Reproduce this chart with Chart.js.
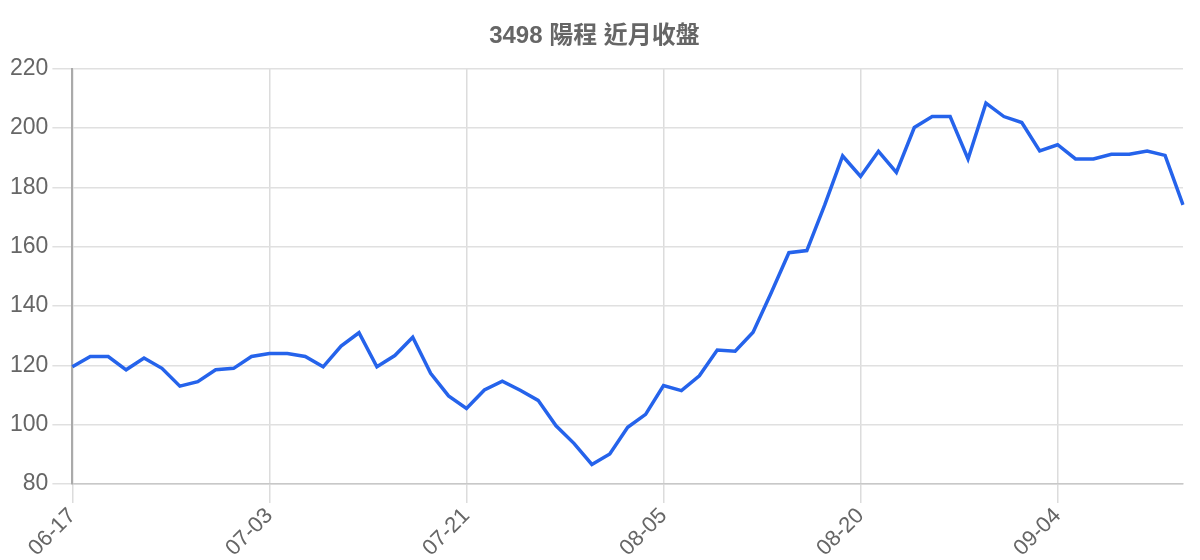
<!DOCTYPE html>
<html>
<head>
<meta charset="utf-8">
<script src="https://cdn.jsdelivr.net/npm/chart.js@4/dist/chart.umd.min.js"></script>
<style>
  html, body { margin: 0; padding: 0; background: #fff; }
  #wrap { width: 1200px; height: 560px; }
</style>
</head>
<body>
<div id="wrap"><canvas id="priceChart"></canvas></div>
<script>
const chartTitle = '3498 陽程 近月收盤';

const dates = [
  '06-17', '06-18', '06-19', '06-20', '06-21', '06-24', '06-25', '06-26', '06-27', '06-28',
  '07-01', '07-03', '07-04', '07-05', '07-08', '07-09', '07-10', '07-11', '07-12', '07-15',
  '07-16', '07-17', '07-21', '07-22', '07-23', '07-24', '07-25', '07-28', '07-29', '07-30',
  '07-31', '08-01', '08-04', '08-05', '08-06', '08-07', '08-08', '08-11', '08-12', '08-13',
  '08-14', '08-15', '08-18', '08-19', '08-20', '08-21', '08-22', '08-25', '08-26', '08-27',
  '08-28', '08-29', '09-01', '09-02', '09-03', '09-04', '09-05', '09-08', '09-09', '09-10',
  '09-11', '09-12', '09-15'
];

const closes = [
  119.5, 123, 123, 118.5, 122.5, 119, 113, 114.5, 118.5, 119,
  123, 124, 124, 123, 119.5, 126.5, 131, 119.5, 123.3, 129.5,
  117.3, 109.7, 105.5, 111.7, 114.7, 111.6, 108.2, 99.6, 93.7, 86.6,
  90.1, 99.1, 103.5, 113.2, 111.5, 116.5, 125.2, 124.8, 131.2, 144.3,
  158, 158.7, 174.1, 190.6, 183.7, 192.2, 185.1, 200.2, 203.9, 203.9,
  189.6, 208.4, 203.9, 201.9, 192.3, 194.4, 189.6, 189.6, 191.2, 191.2,
  192.3, 190.8, 174.1
];

const yTicks = [80, 100, 120, 140, 160, 180, 200, 220];
const labelEvery = 11;

const fontFamily = '"Liberation Sans", Arial, "Noto Sans CJK TC", sans-serif';

document.addEventListener('DOMContentLoaded', () => {
  const ctx = document.getElementById('priceChart').getContext('2d');
  new Chart(ctx, {
    type: 'line',
    data: {
      labels: dates,
      datasets: [{
        label: '收盤',
        data: closes,
        borderColor: '#2563eb',
        backgroundColor: '#2563eb',
        borderWidth: 3.5,
        pointRadius: 0,
        tension: 0,
        fill: false
      }]
    },
    options: {
      responsive: true,
      maintainAspectRatio: false,
      animation: false,
      devicePixelRatio: 1,
      layout: { padding: { left: 6, right: 17, top: 22, bottom: 0 } },
      plugins: {
        legend: { display: false },
        tooltip: { enabled: false },
        title: {
          display: true,
          text: chartTitle,
          color: '#666',
          font: { family: fontFamily, size: 24, weight: 'bold' },
          padding: { top: 0, bottom: 18 }
        }
      },
      scales: {
        x: {
          offset: false,
          grid: { color: '#dcdcdc', lineWidth: 1.5, tickLength: 19, tickColor: '#dcdcdc' },
          border: { color: '#c8c8c8', width: 1.5 },
          afterFit: axis => { axis.height = 76; },
          ticks: {
            autoSkip: false,
            maxRotation: 45,
            minRotation: 45,
            color: '#666',
            font: { family: fontFamily, size: 22 },
            padding: 0,
            callback: function(value, index) {
              return index % labelEvery === 0 ? dates[index] : null;
            }
          }
        },
        y: {
          min: yTicks[0],
          max: yTicks[yTicks.length - 1],
          afterBuildTicks: axis => { axis.ticks = yTicks.map(v => ({ value: v })); },
          grid: { color: '#e0e0e0', lineWidth: 1.5, tickLength: 20 },
          border: { color: '#aaa', width: 2 },
          ticks: {
            color: '#666',
            font: { family: fontFamily, size: 23 },
            padding: 4
          }
        }
      }
    }
  });
});
</script>
</body>
</html>
